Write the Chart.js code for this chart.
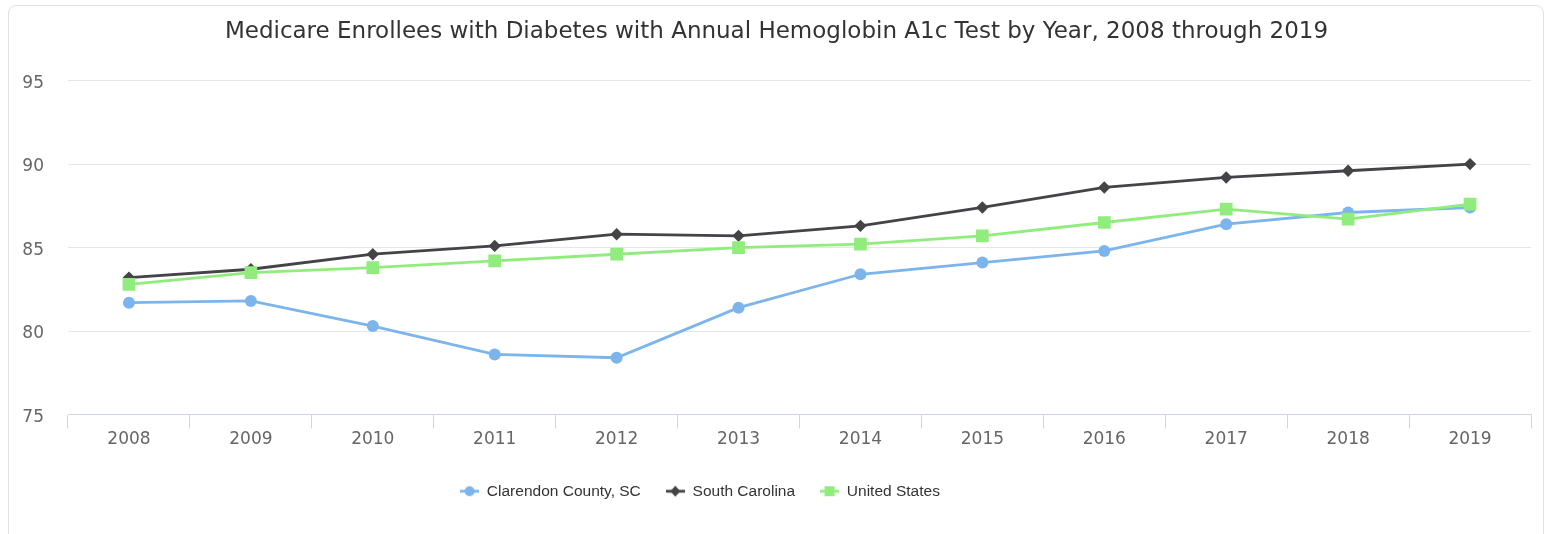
<!DOCTYPE html>
<html>
<head>
<meta charset="utf-8">
<script src="https://cdn.jsdelivr.net/npm/chart.js@4.4.1/dist/chart.umd.min.js"></script>
<style>
	body { margin: 0; background: #fff; overflow: hidden; }
	#card { position: absolute; left: 8px; top: 5px; width: 1534px; height: 600px; border: 1px solid #e2e2e2; border-radius: 8px; }
	#chart { position: absolute; left: 0; top: 0; }
</style>
</head>
<body>
<div id="card"></div>
<canvas id="chart" width="1556" height="534"></canvas>
<script>
// values
const years = ['2008', '2009', '2010', '2011', '2012', '2013', '2014', '2015', '2016', '2017', '2018', '2019'];
const clarendon = [81.7, 81.8, 80.3, 78.6, 78.4, 81.4, 83.4, 84.1, 84.8, 86.4, 87.1, 87.4];
const southCarolina = [83.2, 83.7, 84.6, 85.1, 85.8, 85.7, 86.3, 87.4, 88.6, 89.2, 89.6, 90.0];
const unitedStates = [82.8, 83.5, 83.8, 84.2, 84.6, 85.0, 85.2, 85.7, 86.5, 87.3, 86.7, 87.6];
const yTicks = [75, 80, 85, 90, 95];

const title = 'Medicare Enrollees with Diabetes with Annual Hemoglobin A1c Test by Year, 2008 through 2019';

// little line + marker icon for the legend
function legendIcon(color, shape) {
	const c = document.createElement('canvas');
	c.width = 19;
	c.height = 14;
	const ctx = c.getContext('2d');
	ctx.strokeStyle = color;
	ctx.fillStyle = color;
	ctx.lineWidth = 2.8;
	ctx.beginPath();
	ctx.moveTo(0, 7);
	ctx.lineTo(19, 7);
	ctx.stroke();
	ctx.beginPath();
	if (shape === 'circle') {
		ctx.arc(9.5, 7, 5, 0, Math.PI * 2);
	} else if (shape === 'rect') {
		ctx.rect(4.5, 2, 10, 10);
	} else {
		ctx.moveTo(9.5, 1.5);
		ctx.lineTo(14.5, 7);
		ctx.lineTo(9.5, 12.5);
		ctx.lineTo(4.5, 7);
		ctx.closePath();
	}
	ctx.fill();
	return c;
}

const icons = [
	legendIcon('#7cb5ec', 'circle'),
	legendIcon('#434348', 'diamond'),
	legendIcon('#90ed7d', 'rect')
];

// highcharts-style legend sits a bit left of centre
const legendCenter = 700;
const legendShift = {
	id: 'legendShift',
	afterLayout(chart) {
		const lg = chart.legend;
		lg.right = 2 * legendCenter - lg.left;
	}
};

const ctx = document.getElementById('chart');

new Chart(ctx, {
	type: 'line',
	data: {
		labels: years,
		datasets: [{
			label: 'Clarendon County, SC',
			data: clarendon,
			borderColor: '#7cb5ec',
			backgroundColor: '#7cb5ec',
			borderWidth: 2.8,
			pointStyle: 'circle',
			pointRadius: 6,
			pointBorderWidth: 0,
			order: 3
		}, {
			label: 'South Carolina',
			data: southCarolina,
			borderColor: '#434348',
			backgroundColor: '#434348',
			borderWidth: 2.8,
			pointStyle: 'rectRot',
			pointRadius: 6.2,
			pointBorderWidth: 0,
			order: 2
		}, {
			label: 'United States',
			data: unitedStates,
			borderColor: '#90ed7d',
			backgroundColor: '#90ed7d',
			borderWidth: 2.8,
			pointStyle: 'rect',
			pointRadius: 9,
			pointBorderWidth: 0,
			order: 1
		}]
	},
	options: {
		responsive: false,
		animation: false,
		events: [],
		layout: {
			padding: { left: 22, right: 25, top: 7, bottom: 25 }
		},
		scales: {
			x: {
				offset: true,
				grid: {
					offset: true,
					drawOnChartArea: false,
					color: '#ccd6eb',
					tickLength: 14
				},
				border: { color: '#ccd6eb', width: 1 },
				ticks: {
					color: '#666666',
					font: { family: 'DejaVu Sans', size: 17 },
					padding: 1,
					maxRotation: 0
				},
				afterFit: scale => { scale.height = 44; }
			},
			y: {
				min: 75,
				max: 95,
				afterBuildTicks: scale => { scale.ticks = yTicks.map(v => ({ value: v })); },
				grid: { color: '#e6e6e6', drawTicks: false },
				border: { display: false },
				ticks: {
					color: '#666666',
					font: { family: 'DejaVu Sans', size: 17 },
					padding: 24,
					labelOffset: 3
				},
				afterFit: scale => { scale.width = 46; }
			}
		},
		plugins: {
			title: {
				display: true,
				text: title,
				color: '#333333',
				font: { family: 'DejaVu Sans', size: 23, weight: 'normal' },
				padding: { top: 11, bottom: 35 }
			},
			legend: {
				position: 'bottom',
				labels: {
					usePointStyle: true,
					pointStyleWidth: 19,
					padding: 25,
					color: '#333333',
					font: { family: 'Liberation Sans', size: 15.5 },
					generateLabels: chart => chart.data.datasets.map((ds, i) => ({
						text: ds.label,
						pointStyle: icons[i],
						fillStyle: ds.borderColor,
						strokeStyle: ds.borderColor,
						fontColor: '#333333',
						lineWidth: 0,
						hidden: !chart.isDatasetVisible(i),
						datasetIndex: i
					}))
				}
			},
			tooltip: { enabled: false }
		}
	},
	plugins: [legendShift]
});
</script>
</body>
</html>
